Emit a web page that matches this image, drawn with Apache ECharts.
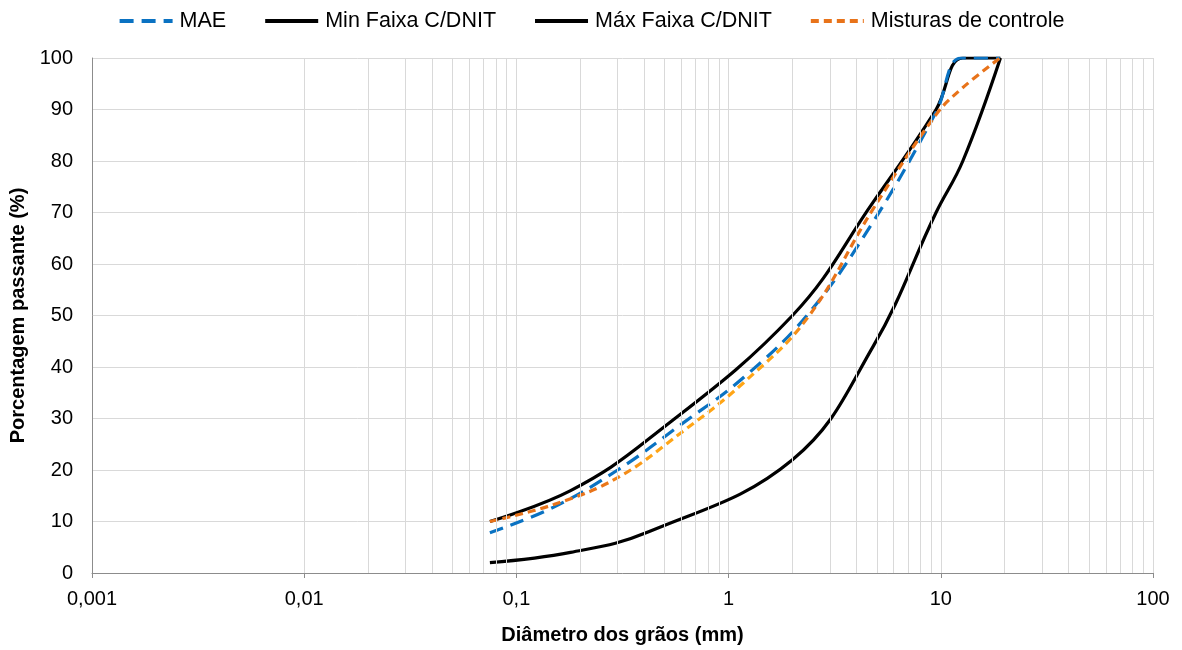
<!DOCTYPE html>
<html>
<head>
<meta charset="utf-8">
<script src="https://cdn.jsdelivr.net/npm/echarts@6/dist/echarts.min.js"></script>
<style>html,body{margin:0;padding:0;background:#fff;}#c{width:1182px;height:650px;}</style>
</head>
<body>
<div id="c"></div>
<script>
// Sieve openings (mm)
const faixaSieves = [0.075, 0.18, 0.42, 2.0, 4.8, 9.5, 12.7, 19.1];
const minFaixa = [2, 4, 8, 22, 44, 70, 80, 100];
const maxFaixa = [10, 16, 26, 50, 72, 90, 100, 100];
const mixSieves = [0.075, 0.15, 0.3, 0.6, 1.18, 2.36, 4.75, 9.5, 12.5, 19];
const mae = [7.8, 12.8, 20.0, 28.9, 38.0, 50.2, 67.9, 89.5, 100, 100];
const misturas = [10, 13.3, 18.5, 27.3, 37.0, 49.6, 70.4, 89, 94, 100];
const xTickLabels = ['0,001', '0,01', '0,1', '1', '10', '100'];
const seriesNames = ['MAE', 'Min Faixa C/DNIT', 'Máx Faixa C/DNIT', 'Misturas de controle'];

const pairs = (xs, ys) => xs.map((x, i) => [x, ys[i]]);
// minor grid positions 2..9 in each decade
const minorGrid = [];
for (let e = -3; e < 2; e++) for (let k = 2; k <= 9; k++) minorGrid.push(+(k * Math.pow(10, e)).toPrecision(3));

const font = 'Arial, "Liberation Sans", sans-serif';
const orange = '#E8731A', yellow = '#FFA516', blue = '#0A72C2';
const hidden = {color: 'rgba(0,0,0,0)', borderColor: 'rgba(0,0,0,0)', borderWidth: 0, opacity: 0};
const chart = echarts.init(document.getElementById('c'), null, {renderer: 'canvas'});
chart.setOption({
  animation: false,
  textStyle: {fontFamily: font},
  grid: {left: 92, right: 29, top: 58, bottom: 70, containLabel: false},
  legend: {
    top: 5, left: 'center', itemWidth: 53, itemHeight: 14, itemGap: 37,
    textStyle: {fontSize: 21.5, color: '#000', fontFamily: font, padding: [0, 0, 0, 2]},
    itemStyle: hidden,
    data: [
      {name: seriesNames[0], itemStyle: hidden, lineStyle: {width: 4}},
      {name: seriesNames[1], itemStyle: hidden, lineStyle: {width: 4}},
      {name: seriesNames[2], itemStyle: hidden, lineStyle: {width: 4}},
      {name: seriesNames[3], itemStyle: hidden, lineStyle: {color: orange, width: 4}}
    ]
  },
  xAxis: {
    type: 'log', logBase: 10, min: 0.001, max: 100,
    name: 'Diâmetro dos grãos (mm)', nameLocation: 'middle', nameGap: 52,
    nameTextStyle: {fontSize: 20, fontWeight: 'bold', color: '#000', fontFamily: font},
    axisLine: {show: true, lineStyle: {color: '#8c8c8c', width: 1}},
    axisTick: {show: true, length: 5, lineStyle: {color: '#8c8c8c'}},
    axisLabel: {fontSize: 20, color: '#000', margin: 16,
      formatter: v => xTickLabels[Math.round(Math.log10(v)) + 3]},
    splitLine: {show: true, lineStyle: {color: '#d9d9d9', width: 1}},
    minorTick: {show: false}, minorSplitLine: {show: false}
  },
  yAxis: {
    type: 'value', min: 0, max: 100, interval: 10,
    name: 'Porcentagem passante (%)', nameLocation: 'middle', nameGap: 62,
    nameTextStyle: {fontSize: 20, fontWeight: 'bold', color: '#000', fontFamily: font},
    axisLine: {show: true, lineStyle: {color: '#8c8c8c', width: 1}},
    axisTick: {show: false},
    axisLabel: {fontSize: 20, color: '#000', margin: 19},
    splitLine: {show: true, lineStyle: {color: '#d9d9d9', width: 1}}
  },
  series: [
    {
      name: '_minorgrid', type: 'line', data: [], z: 0, silent: true,
      markLine: {
        silent: true, symbol: 'none', animation: false,
        label: {show: false},
        lineStyle: {color: '#d9d9d9', type: 'solid', width: 1},
        emphasis: {disabled: true},
        data: minorGrid.map(v => ({xAxis: v}))
      }
    },
    {
      name: seriesNames[0], type: 'line', data: pairs(mixSieves, mae),
      smooth: 0.4, symbol: 'none', showSymbol: false, z: 3,
      lineStyle: {color: blue, width: 3.2, type: [14, 8]}, itemStyle: {color: blue}
    },
    {
      name: seriesNames[1], type: 'line', data: pairs(faixaSieves, minFaixa),
      smooth: 0.4, symbol: 'none', showSymbol: false, z: 2,
      lineStyle: {color: '#000', width: 3.2, type: 'solid'}, itemStyle: {color: '#000'}
    },
    {
      name: seriesNames[2], type: 'line', data: pairs(faixaSieves, maxFaixa),
      smooth: 0.4, symbol: 'none', showSymbol: false, z: 2,
      lineStyle: {color: '#000', width: 3.2, type: 'solid'}, itemStyle: {color: '#000'}
    },
    {
      name: seriesNames[3], type: 'line', data: pairs(mixSieves, misturas),
      smooth: 0.4, symbol: 'none', showSymbol: false, z: 4,
      lineStyle: {
        width: 3.2, type: [8, 5],
        color: new echarts.graphic.LinearGradient(0, 0, 1, 0, [
          {offset: 0, color: orange}, {offset: 0.22, color: orange},
          {offset: 0.32, color: yellow}, {offset: 0.57, color: yellow},
          {offset: 0.64, color: orange}, {offset: 1, color: orange}
        ])
      },
      itemStyle: {color: orange}
    }
  ]
});
</script>
</body>
</html>
